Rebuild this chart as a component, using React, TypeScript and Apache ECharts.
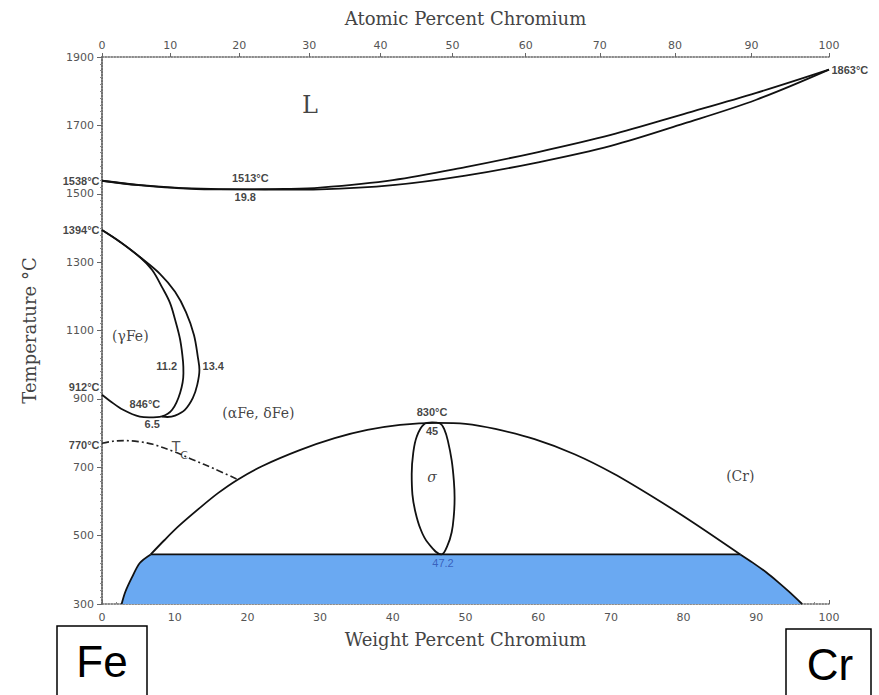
import { useEffect, useRef } from "react";
import * as echarts from "echarts";

// ---- Axis values ----
const weightTicks = [0, 10, 20, 30, 40, 50, 60, 70, 80, 90, 100];
const atomicTicks = [0, 10, 20, 30, 40, 50, 60, 70, 80, 90, 100];
const tempMin = 300;
const tempMax = 1900;
const tempStep = 200;

const M_CR = 51.996;
const M_FE = 55.845;

// ---- Phase boundaries (wt% Cr, °C) ----
const liquidus = [
  [0, 1538], [5, 1526], [10, 1518], [15, 1514], [19.8, 1513], [25, 1514], [30, 1518],
  [40, 1540], [50, 1578], [60, 1622], [70, 1672], [80, 1733], [90, 1795], [100, 1863],
];
const solidus = [
  [0, 1538], [5, 1525], [10, 1517], [15, 1513], [19.8, 1513], [25, 1512], [30, 1513],
  [40, 1525], [50, 1553], [60, 1592], [70, 1640], [80, 1705], [90, 1775], [100, 1863],
];
const gammaInner = [
  [0, 1394], [2.5, 1359], [5.2, 1315], [6.9, 1277], [8.25, 1227], [9.35, 1181],
  [10.05, 1132], [10.75, 1073], [11.15, 1008], [11.2, 975], [10.75, 918], [9.65, 868],
  [8.25, 849], [6.5, 846], [5.2, 848], [2.9, 868], [1.1, 894], [0, 912],
];
const gammaOuter = [
  [0, 1394], [2.5, 1359], [5.2, 1315], [8, 1265], [10.05, 1213], [11.55, 1154],
  [12.65, 1087], [13.2, 1020], [13.4, 985], [13.1, 941], [12.5, 903], [11.4, 868],
  [10.05, 851], [9, 847], [8.25, 848],
];
const curieLine = [
  [0, 770], [1.5, 776], [3, 778], [5, 775], [7, 767], [10, 745], [12.5, 722],
  [15.5, 695], [18.6, 665],
];
const domeUpper = [
  [6.7, 445], [8.5, 485], [10.5, 527], [13.5, 582], [16, 625], [18.6, 663], [22, 703],
  [27.2, 750], [32, 785], [36.5, 809], [41, 824], [46, 830], [50, 827], [54.1, 812],
  [59.5, 782], [65, 738], [70.4, 681], [75.8, 613], [81.2, 540], [87.8, 445],
];
const domeLowerLeft = [[2.7, 300], [3.2, 335], [4.1, 377], [5.2, 420], [6.7, 445]];
const domeLowerRight = [[87.8, 445], [89.5, 421], [91.4, 392], [93, 364], [94.5, 336], [96.3, 300]];
const tieLine = [[6.7, 445], [87.8, 445]];
const sigmaLens = [
  [45.4, 831], [44.3, 826], [43.3, 790], [42.8, 740], [42.6, 680], [42.7, 620],
  [43.1, 570], [43.8, 520], [44.8, 480], [46.7, 445], [47.5, 470], [48.1, 510],
  [48.4, 560], [48.5, 610], [48.4, 660], [48.1, 720], [47.6, 775], [47.1, 810],
  [46.5, 828], [45.4, 831],
];

// ---- Annotations: [text, wt%, °C, anchor] ----
const tempLabels: [string, number, number, string][] = [
  ["1538°C", 0, 1537, "left"],
  ["1394°C", 0, 1394, "left"],
  ["912°C", 0, 935, "left"],
  ["770°C", 0, 765, "left"],
  ["1863°C", 100, 1863, "right"],
  ["1513°C", 20.4, 1546, "inside"],
  ["19.8", 19.7, 1491, "inside"],
  ["11.2", 8.9, 996, "inside"],
  ["13.4", 15.3, 996, "inside"],
  ["846°C", 5.9, 885, "inside"],
  ["6.5", 6.9, 827, "inside"],
  ["830°C", 45.4, 862, "inside"],
  ["45", 45.4, 805, "inside"],
];
const phaseLabels: [string, number, number][] = [
  ["(γFe)", 3.9, 1084],
  ["(αFe, δFe)", 21.5, 859],
  ["σ", 45.4, 672],
  ["(Cr)", 87.8, 675],
];
const bigLabel: [string, number, number] = ["L", 28.6, 1760];
const curieLabel: [number, number] = [10.7, 751];
const blueLabel: [string, number, number] = ["47.2", 46.9, 420];

const wtFromAt = (a: number) => (a * M_CR) / (a * M_CR + (100 - a) * M_FE) * 100;
const atFromWt = (w: number) => (w / M_CR) / (w / M_CR + (100 - w) / M_FE) * 100;

const AXIS_COLOR = "#666";
const LABEL_COLOR = "#555";
const TITLE_STYLE = { fontFamily: "DejaVu Serif", fontSize: 18, color: "#444" };

export default function App() {
  const ref = useRef<HTMLDivElement>(null);

  useEffect(() => {
    document.body.style.margin = "0";
    if (!ref.current) return;
    const chart = echarts.init(ref.current, undefined, { renderer: "svg" });

    const lineSeries = (data: number[][], extra: any = {}) => ({
      type: "line",
      data,
      symbol: "none",
      showSymbol: false,
      smooth: 0.35,
      clip: false,
      silent: true,
      z: 5,
      lineStyle: { color: "#111", width: 1.8 },
      ...extra,
    });

    const tempStyle = {
      fontFamily: "Liberation Sans",
      fontWeight: "bold",
      fontSize: 11,
      color: "#111",
    };
    const phaseStyle = {
      fontFamily: "DejaVu Serif",
      fontSize: 14,
      color: "#111",
    };

    const labelData: any[] = [];
    tempLabels.forEach(([t, x, y, pos]) =>
      labelData.push({
        value: [x, y],
        label: { show: true, formatter: t, position: pos, distance: 2, ...tempStyle },
      })
    );
    phaseLabels.forEach(([t, x, y]) =>
      labelData.push({
        value: [x, y],
        label: {
          show: true,
          formatter: t,
          position: "inside",
          ...phaseStyle,
          fontStyle: t === "σ" ? "italic" : "normal",
        },
      })
    );
    labelData.push({
      value: [bigLabel[1], bigLabel[2]],
      label: {
        show: true,
        formatter: bigLabel[0],
        position: "inside",
        fontFamily: "DejaVu Serif",
        fontSize: 24,
        color: "#111",
      },
    });
    labelData.push({
      value: curieLabel,
      label: {
        show: true,
        formatter: "{t|T}{s|C}",
        position: "inside",
        rich: {
          t: { fontFamily: "DejaVu Sans", fontSize: 14, color: "#222", lineHeight: 22, verticalAlign: "top" },
          s: { fontFamily: "DejaVu Sans", fontSize: 11, color: "#222", lineHeight: 22, verticalAlign: "bottom" },
        },
      },
    });
    labelData.push({
      value: [blueLabel[1], blueLabel[2]],
      label: {
        show: true,
        formatter: blueLabel[0],
        position: "inside",
        fontFamily: "Liberation Sans",
        fontSize: 11,
        color: "#2c4fb0",
      },
    });

    const option: any = {
      animation: false,
      backgroundColor: "#fff",
      grid: { left: 102, right: 50, top: 57, bottom: 91, containLabel: false },
      xAxis: [
        {
          type: "value",
          position: "bottom",
          min: weightTicks[0],
          max: weightTicks[weightTicks.length - 1],
          interval: 10,
          name: "Weight Percent Chromium",
          nameLocation: "middle",
          nameGap: 26,
          nameTextStyle: TITLE_STYLE,
          axisLine: { lineStyle: { color: AXIS_COLOR, type: "dotted", width: 1.5 } },
          axisTick: { inside: true, length: 4, lineStyle: { color: AXIS_COLOR } },
          minorTick: { show: true, splitNumber: 5, length: 2, lineStyle: { color: "#888" } },
          axisLabel: {
            fontFamily: "DejaVu Sans",
            fontSize: 11,
            color: LABEL_COLOR,
            margin: 8,
            formatter: (v: number) => String(v),
          },
          splitLine: { show: false },
        },
        {
          type: "value",
          position: "top",
          min: 0,
          max: 100,
          name: "Atomic Percent Chromium",
          nameLocation: "middle",
          nameGap: 30,
          nameTextStyle: TITLE_STYLE,
          axisLine: { lineStyle: { color: AXIS_COLOR, type: "dotted", width: 1.5 } },
          axisTick: {
            length: 4,
            lineStyle: { color: AXIS_COLOR },
            customValues: atomicTicks.map(wtFromAt),
          },
          axisLabel: {
            fontFamily: "DejaVu Sans",
            fontSize: 11,
            color: LABEL_COLOR,
            margin: 6,
            customValues: atomicTicks.map(wtFromAt),
            formatter: (v: number) => String(Math.round(atFromWt(v))),
          },
          splitLine: { show: false },
        },
      ],
      yAxis: [
        {
          type: "value",
          position: "left",
          min: tempMin,
          max: tempMax,
          interval: tempStep,
          name: "Temperature °C",
          nameLocation: "middle",
          nameGap: 64,
          nameTextStyle: TITLE_STYLE,
          axisLine: { show: true, lineStyle: { color: AXIS_COLOR, type: "dotted", width: 1.5 } },
          axisTick: { show: true, length: 5, lineStyle: { color: AXIS_COLOR } },
          minorTick: { show: true, splitNumber: 10, length: 2, lineStyle: { color: "#888" } },
          axisLabel: {
            fontFamily: "DejaVu Sans",
            fontSize: 11,
            color: LABEL_COLOR,
            margin: 8,
            formatter: (v: number) => String(v),
          },
          splitLine: { show: false },
        },
        {
          type: "value",
          position: "right",
          min: tempMin,
          max: tempMax,
          interval: tempStep,
          axisLine: { show: true, lineStyle: { color: AXIS_COLOR, type: "dotted", width: 1.5 } },
          axisTick: { show: true, inside: true, length: 5, lineStyle: { color: AXIS_COLOR } },
          axisLabel: { show: false },
          splitLine: { show: false },
        },
      ],
      series: [
        {
          type: "line",
          data: [...domeLowerLeft, ...domeLowerRight],
          symbol: "none",
          smooth: false,
          silent: true,
          z: 2,
          lineStyle: { width: 0 },
          areaStyle: { color: "#6aa9f2", opacity: 1, origin: "start" },
        },
        lineSeries(liquidus),
        lineSeries(solidus),
        lineSeries(gammaInner),
        lineSeries(gammaOuter),
        lineSeries(curieLine, {
          lineStyle: { color: "#222", width: 1.6, type: [7, 3, 2, 3] },
        }),
        lineSeries(domeUpper, { smooth: 0.3 }),
        lineSeries(domeLowerLeft, { smooth: 0.3 }),
        lineSeries(domeLowerRight, { smooth: 0.3 }),
        lineSeries(tieLine, { smooth: false }),
        lineSeries(sigmaLens, { smooth: 0.4 }),
        {
          type: "scatter",
          data: labelData,
          symbolSize: 1,
          itemStyle: { color: "transparent" },
          clip: false,
          silent: true,
          z: 10,
        },
      ],
      graphic: [
        {
          type: "group",
          children: [
            {
              type: "rect",
              shape: { x: 57, y: 626, width: 90, height: 75 },
              style: { fill: "#fff", stroke: "#000", lineWidth: 1.5 },
            },
            {
              type: "text",
              x: 102,
              y: 661,
              style: {
                text: "Fe",
                fontFamily: "Liberation Sans",
                fontSize: 44,
                fill: "#000",
                align: "center",
                verticalAlign: "middle",
              },
            },
            {
              type: "rect",
              shape: { x: 786, y: 629, width: 85, height: 75 },
              style: { fill: "#fff", stroke: "#000", lineWidth: 1.5 },
            },
            {
              type: "text",
              x: 830,
              y: 664,
              style: {
                text: "Cr",
                fontFamily: "Liberation Sans",
                fontSize: 44,
                fill: "#000",
                align: "center",
                verticalAlign: "middle",
              },
            },
          ],
        },
      ],
    };

    chart.setOption(option);
    return () => chart.dispose();
  }, []);

  return <div ref={ref} style={{ width: 879, height: 695 }} />;
}
